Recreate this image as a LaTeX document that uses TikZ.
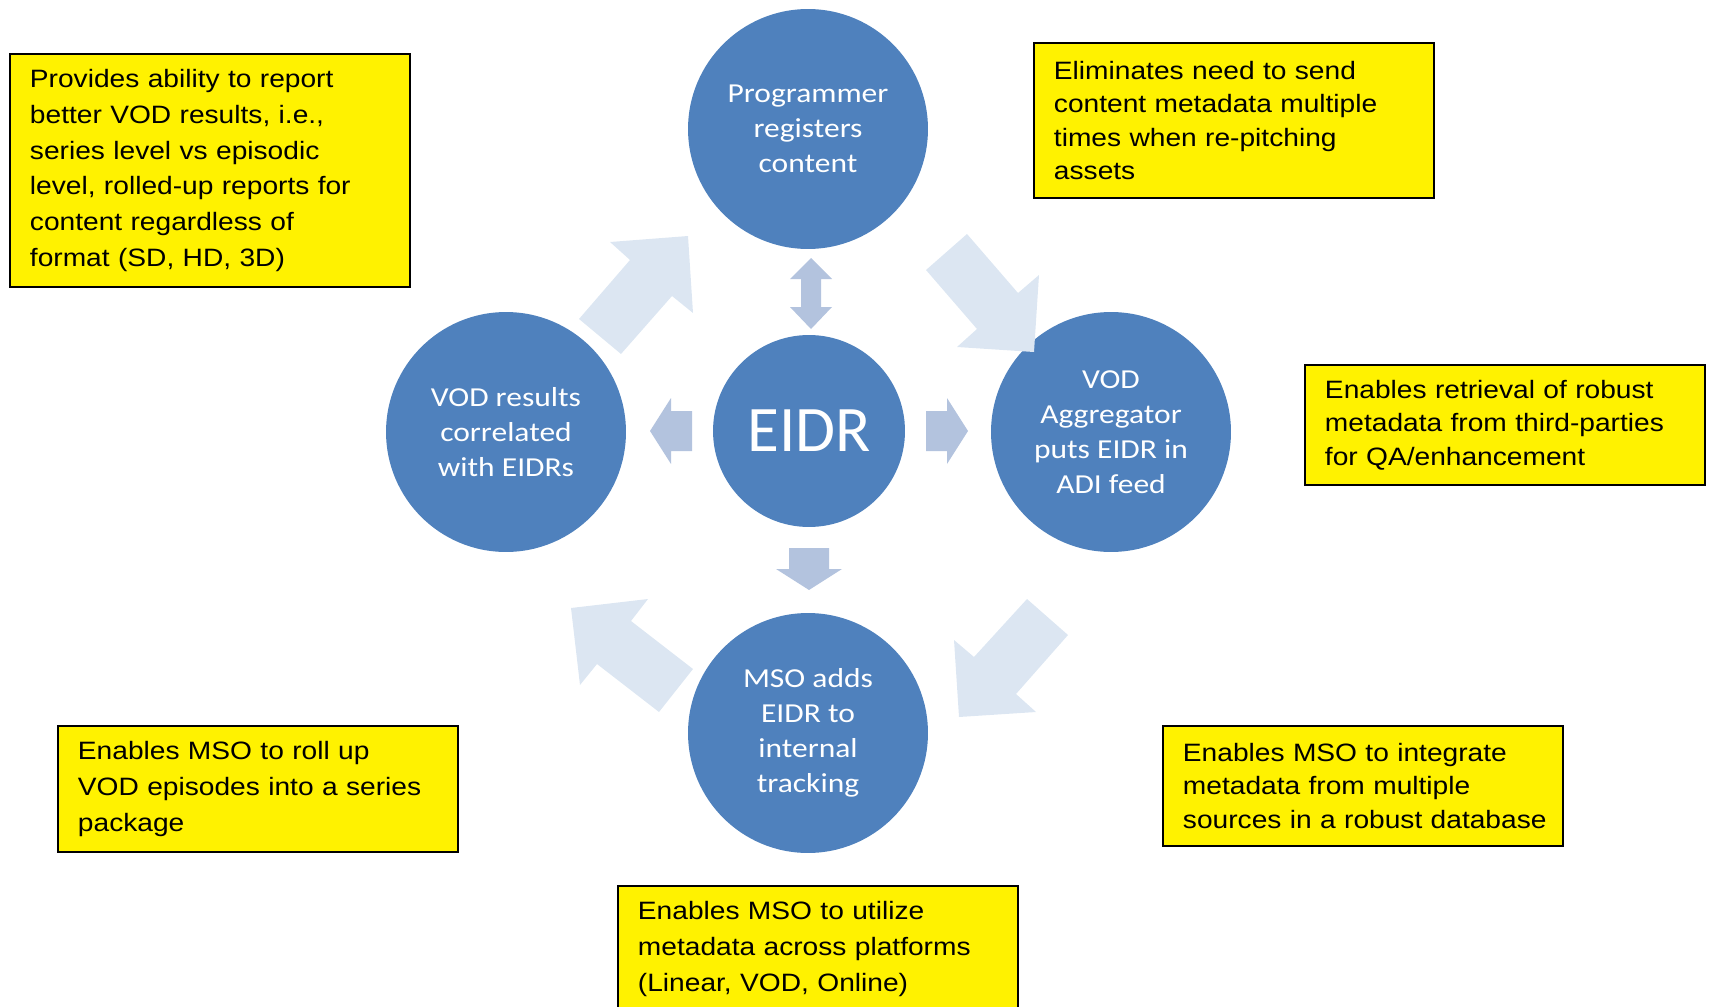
\documentclass[tikz,border=0pt]{standalone}
\usepackage{fontspec}
\newfontfamily\notefont[FakeStretch=1.12]{Liberation Sans}
\newfontfamily\circfont[FakeStretch=1.15]{Carlito}
\newfontfamily\eidrfont{Carlito}
\definecolor{circblue}{HTML}{4F81BD}
\definecolor{smallarr}{HTML}{B3C3DE}
\definecolor{bigarr}{HTML}{DCE6F2}
\tikzset{
  circ/.style={circle, fill=circblue, minimum size=4.8cm, inner sep=0pt, text=white, align=center, font=\circfont\fontsize{15.6}{19.9}\selectfont},
  note/.style={draw=black, line width=1.1pt, fill=yellow, anchor=north west, minimum width=8cm, text width=7.5cm, inner xsep=0.25cm, inner ysep=0pt, align=left, font=\notefont\fontsize{14.3}{20.3}\selectfont, execute at begin node={\leftskip=0.15cm}},
  tightnote/.style={note, font=\notefont\fontsize{14.3}{19}\selectfont},
  bigarrow/.style={fill=bigarr},
  smallarrow/.style={fill=smallarr}
}
\begin{document}
\begin{tikzpicture}[x=0.02cm, y=-0.02cm]
\useasboundingbox (0,0) rectangle (1710,1007);
\clip (0,0) rectangle (1710,1007);
% the cycle
\node[circ] (prog) at (808,129) {Programmer\\registers\\content};
\node[circ] (vod) at (506,432) {VOD results\\correlated\\with EIDRs};
\node[circ] (agg) at (1111,432) {VOD\\Aggregator\\puts EIDR in\\ADI feed};
\node[circ] (mso) at (808,733) {MSO adds\\EIDR to\\internal\\tracking};
\node[circ, minimum size=3.84cm, font=\eidrfont\fontsize{37}{44}\selectfont] (eidr) at (809,431) {EIDR};
% small arrows round EIDR
\foreach \a in {0,180,-90}
  \fill[smallarrow, shift={(eidr.center)}, rotate=\a] (117,-20) -- (138,-20) -- (138,-33) -- (159,0) -- (138,33) -- (138,20) -- (117,20) -- cycle;
\fill[smallarrow] (811,258) -- (832,279) -- (821,279) -- (821,307) -- (832,307) -- (811,329) -- (790,307) -- (801,307) -- (801,279) -- (790,279) -- cycle;
% big arrows
\fill[bigarrow] (579,319) -- (630,260) -- (610,242) -- (688,236) -- (693,313) -- (672,296) -- (621,354) -- cycle;
\fill[bigarrow] (967,234) -- (1018,293) -- (1039,275) -- (1034,352) -- (957,347) -- (977,329) -- (926,270) -- cycle;
\fill[bigarrow] (1027,599) -- (1068,635) -- (1016,694) -- (1036,712) -- (959,717) -- (954,640) -- (974,657) -- cycle;
\fill[bigarrow] (571,608) -- (648,599) -- (631,621) -- (693,669) -- (659,712) -- (597,664) -- (580,685) -- cycle;
% notes
\node[note, minimum height=4.66cm] (nreport) at (9,53) {Provides ability to report\\better VOD results, i.e.,\\series level vs episodic\\level, rolled-up reports for\\content regardless of\\format (SD, HD, 3D)};
\node[tightnote, minimum height=3.1cm] (nresend) at (1033,42) {Eliminates need to send\\content metadata multiple\\times when re-pitching\\assets};
\node[tightnote, minimum height=2.4cm] (nretrieve) at (1304,364) {Enables retrieval of robust\\metadata from third-parties\\for QA/enhancement};
\node[note, minimum height=2.52cm] (nrollup) at (57,725) {Enables MSO to roll up\\VOD episodes into a series\\package};
\node[tightnote, minimum height=2.4cm] (nintegrate) at (1162,725) {Enables MSO to integrate\\metadata from multiple\\sources in a robust database};
\node[note, minimum height=2.52cm] (nutilize) at (617,885) {Enables MSO to utilize\\metadata across platforms\\(Linear, VOD, Online)};
\end{tikzpicture}
\end{document}
